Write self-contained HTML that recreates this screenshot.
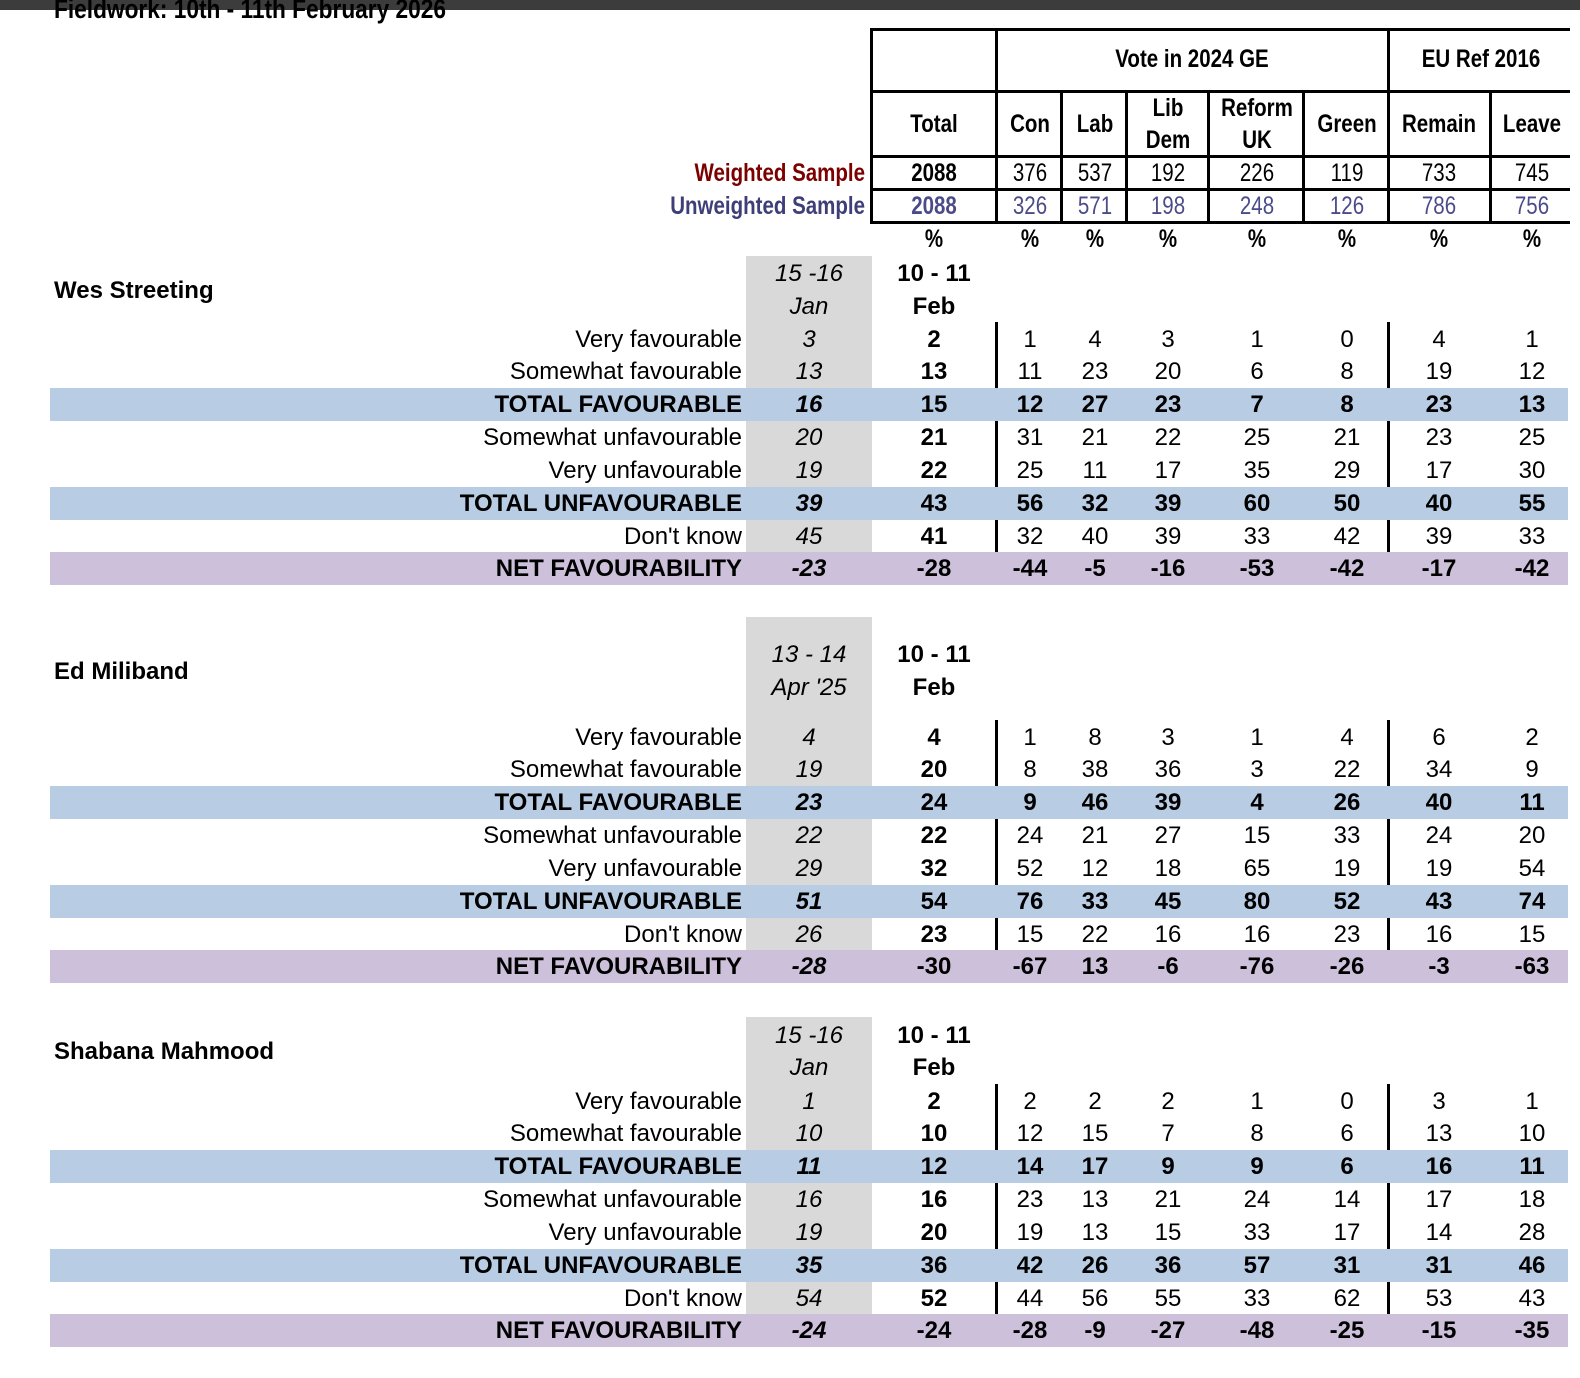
<!DOCTYPE html>
<html><head><meta charset="utf-8">
<style>
body{margin:0;width:1580px;height:1378px;background:#fff;position:relative;overflow:hidden;font-family:"Liberation Sans",Arial,sans-serif;color:#000}
.a{position:absolute;white-space:nowrap}
.n{font-weight:bold}
.t{font-size:24px;line-height:33px}
</style></head><body>
<div class="a" style="left:0;top:0;width:1580px;height:10px;background:#3c3c3c"></div>
<div class="a n" style="left:54px;top:-6px;font-size:27px;line-height:30px;transform:scaleX(0.84);transform-origin:0 0">Fieldwork: 10th - 11th February 2026</div>
<div id="root"></div>
<script>
const cols=["Total","Con","Lab","Lib Dem","Reform UK","Green","Remain","Leave"];
const weighted=[2088,376,537,192,226,119,733,745];
const unweighted=[2088,326,571,198,248,126,786,756];
const rowLabels=["Very favourable","Somewhat favourable","TOTAL FAVOURABLE","Somewhat unfavourable","Very unfavourable","TOTAL UNFAVOURABLE","Don't know","NET FAVOURABILITY"];
const people=["Wes Streeting","Ed Miliband","Shabana Mahmood"];
const prevDates=[["15 -16","Jan"],["13 - 14","Apr '25"],["15 -16","Jan"]];
const prevWes=[3,13,16,20,19,39,45,-23];
const prevEd=[4,19,23,22,29,51,26,-28];
const prevShabana=[1,10,11,16,19,35,54,-24];
const wes=[[2,1,4,3,1,0,4,1],[13,11,23,20,6,8,19,12],[15,12,27,23,7,8,23,13],[21,31,21,22,25,21,23,25],[22,25,11,17,35,29,17,30],[43,56,32,39,60,50,40,55],[41,32,40,39,33,42,39,33],[-28,-44,-5,-16,-53,-42,-17,-42]];
const ed=[[4,1,8,3,1,4,6,2],[20,8,38,36,3,22,34,9],[24,9,46,39,4,26,40,11],[22,24,21,27,15,33,24,20],[32,52,12,18,65,19,19,54],[54,76,33,45,80,52,43,74],[23,15,22,16,16,23,16,15],[-30,-67,13,-6,-76,-26,-3,-63]];
const shabana=[[2,2,2,2,1,0,3,1],[10,12,15,7,8,6,13,10],[12,14,17,9,9,6,16,11],[16,23,13,21,24,14,17,18],[20,19,13,15,33,17,14,28],[36,42,26,36,57,31,31,46],[52,44,56,55,33,62,53,43],[-24,-28,-9,-27,-48,-25,-15,-35]];
const prevAll=[prevWes,prevEd,prevShabana];
const curAll=[wes,ed,shabana];

const R=document.getElementById('root');
const colX=[934,1030,1095,1168,1257,1347,1439,1532];
function box(l,t,w,h,bg,name){const d=document.createElement('div');d.className='a';d.style.cssText=`left:${l}px;top:${t}px;width:${w}px;height:${h}px;background:${bg}`;


R.appendChild(d);return d;}
// align: 'c' center, 'r' right, 'l' left ; sx: horizontal scale
function txt(s,x,y,align,style,name,sx){sx=sx||1;const d=document.createElement('div');d.className='a t';d.textContent=s;
const tx=align=='c'?'-50%':(align=='r'?'-100%':'0');
const origin=align=='c'?'50% 50%':(align=='r'?'100% 50%':'0 50%');
d.style.cssText=`left:${x}px;top:${y-16.5}px;transform:translateX(${tx}) scaleX(${sx});transform-origin:${origin};`+style;


R.appendChild(d);return d;}
const NS=0.82;
const B='#000';
box(871,28,699,3,B,'header-top-border');
box(871,90,699,3,B,'header-line');
box(871,155,699,3,B,'header-line');
box(871,188,699,3,B,'header-line');
box(871,221,699,3,B,'header-bottom-border');
box(870,28,3,196,B,'header-left-border');
box(995,28,3,196,B,'header-divider');
box(1387,28,3,196,B,'header-divider');
[1061,1126,1208,1303,1490].forEach(x=>box(x-1,91,3,133,B,'header-col-divider'));
txt('Vote in 2024 GE',1192,59,'c','font-size:25px;font-weight:bold','group-header-ge',NS);
txt('EU Ref 2016',1481,59,'c','font-size:25px;font-weight:bold','group-header-eu',NS);
cols.forEach((c,i)=>{
  const p=c.split(' ');
  if(p.length==2){txt(p[0],colX[i],108,'c','font-size:25px;font-weight:bold','col-header',NS);txt(p[1],colX[i],140,'c','font-size:25px;font-weight:bold','col-header',NS);}
  else txt(c,colX[i],124,'c','font-size:25px;font-weight:bold','col-header',NS);
  txt(String(weighted[i]),colX[i],173,'c','font-size:25px;'+(i==0?'font-weight:bold':''),'weighted-value',NS);
  txt(String(unweighted[i]),colX[i],206,'c','font-size:25px;color:#4b4b8a;'+(i==0?'font-weight:bold':''),'unweighted-value',NS);
  txt('%',colX[i],239,'c','font-size:25px;font-weight:bold','percent-label',NS);
});
txt('Weighted Sample',865,173,'r','font-size:25px;font-weight:bold;color:#7b0000','weighted-sample-label',NS);
txt('Unweighted Sample',865,206,'r','font-size:25px;font-weight:bold;color:#3e3e78','unweighted-sample-label',NS);

const secs=[{gTop:256,d1:273,d2:306,title:290,base:339},{gTop:617,d1:654,d2:687,title:671,base:737},{gTop:1017,d1:1035,d2:1067,title:1051,base:1101}];
const step=32.85;
secs.forEach((s,si)=>{
  const yc=i=>s.base+i*step;
  box(746,s.gTop,126,yc(7)-16.5-s.gTop,'#d9d9d9','previous-wave-column');
  box(995,yc(0)-17,3,yc(6)+16.5-(yc(0)-17),B,'ge-divider-line');
  box(1387,yc(0)-17,3,yc(6)+16.5-(yc(0)-17),B,'eu-divider-line');
  [2,5].forEach(i=>box(50,yc(i)-16.5,1518,33,'#b8cce4','total-row-band'));
  box(50,yc(7)-16.5,1518,33,'#ccc0da','net-row-band');
  txt(people[si],54,s.title,'l','font-size:24px;font-weight:bold','person-name');
  txt(prevDates[si][0],809,s.d1,'c','font-size:24px;font-style:italic','previous-date');
  txt(prevDates[si][1],809,s.d2,'c','font-size:24px;font-style:italic','previous-date');
  txt('10 - 11',934,s.d1,'c','font-size:24px;font-weight:bold','current-date');
  txt('Feb',934,s.d2,'c','font-size:24px;font-weight:bold','current-date');
  rowLabels.forEach((l,i)=>{
    const bold=(i==2||i==5||i==7);
    txt(l,742,yc(i),'r','font-size:24px;'+(bold?'font-weight:bold':''),'row-label');
    txt(String(prevAll[si][i]),809,yc(i),'c','font-size:24px;font-style:italic;'+(bold?'font-weight:bold':''),'previous-value');
    curAll[si][i].forEach((v,j)=>{
      txt(String(v),colX[j],yc(i),'c','font-size:24px;'+((bold||j==0)?'font-weight:bold':''),'cell-value');
    });
  });
});
</script>
</body></html>
